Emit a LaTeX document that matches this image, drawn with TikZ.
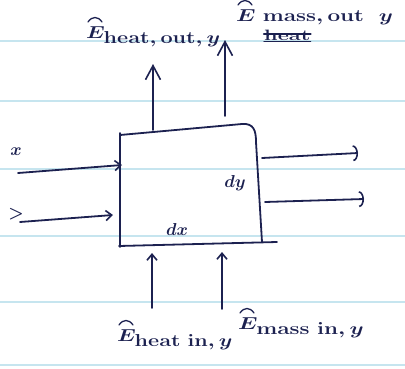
\documentclass[tikz,border=0pt]{standalone}
\usetikzlibrary{arrows.meta}
\definecolor{ink}{HTML}{1C2150}
\definecolor{ruling}{HTML}{C6E5EF}
\tikzset{
  pen/.style={draw=ink, line width=1.8pt, line cap=round, line join=round},
  thinpen/.style={draw=ink, line width=1.3pt, line cap=round},
  ruleline/.style={draw=ruling, line width=1.3pt},
  lbl/.style={text=ink, inner sep=0pt, font=\fontsize{19}{22}\selectfont\boldmath},
  uptip/.style={pen, -{Straight Barb[length=14pt,width=15pt,line width=1.6pt]}},
  smalltip/.style={pen, -{Straight Barb[length=6pt,width=10pt,line width=1.6pt]}},
  arctip/.style={pen, -{Arc Barb[length=5pt,width=16pt,line width=1.6pt]}}
}
\begin{document}
\begin{tikzpicture}[x=1pt,y=-1pt]
\useasboundingbox (0,0) rectangle (405,368);
% ruled paper
\foreach \yy in {41,101,169,236,302,365} \draw[ruleline] (0,\yy) -- (405,\yy);
% control volume
\draw[pen] (120,133) -- (120,247);
\draw[pen] (120,135) -- (242,124) .. controls (254,123) and (256,131) .. (256,142) -- (262,242);
\draw[pen] (119,246) -- (277,242);
% coordinates for connectors
\coordinate (t1s) at (153,130); \coordinate (t1e) at (153,64);
\coordinate (t2s) at (225,116); \coordinate (t2e) at (225,40);
\coordinate (l1s) at (18,173);  \coordinate (l1e) at (122,165);
\coordinate (l2s) at (20,222);  \coordinate (l2e) at (113,215);
\coordinate (r1s) at (262,158); \coordinate (r1e) at (358,153);
\coordinate (r2s) at (265,202); \coordinate (r2e) at (364,199);
\coordinate (b1s) at (152,308); \coordinate (b1e) at (152,253);
\coordinate (b2s) at (222,309); \coordinate (b2e) at (222,252);
% arrows
\draw[uptip] (t1s) -- (t1e);
\draw[uptip] (t2s) -- (t2e);
\draw[smalltip] (l1s) -- (l1e);
\draw[smalltip] (l2s) -- (l2e);
\draw[arctip] (r1s) -- (r1e);
\draw[arctip] (r2s) -- (r2e);
\draw[smalltip] (b1s) -- (b1e);
\draw[smalltip] (b2s) -- (b2e);
% labels
\node[lbl, anchor=base west] (top1) at (86,38) {\scalebox{1.25}[1]{$E_{\textstyle\mathrm{heat,out},y}$}};
\node[lbl, anchor=base west] (top2) at (236,21) {\scalebox{1.3}[1]{$E\;\mathrm{mass,out}\ \ y$}};
\node[lbl, anchor=base west, font=\fontsize{15}{18}\selectfont\bfseries] (heat) at (264,40) {\scalebox{1.45}[1]{heat}};
\draw[pen, line width=2.4pt] ([yshift=1pt]heat.west) -- ([yshift=1pt]heat.east);
\draw[pen, line width=1.4pt] ([yshift=-1pt]heat.south west) -- ([yshift=-1pt]heat.south east);
\node[lbl] (xl) at (16,152) {$x$};
\node[lbl] (yl) at (16,214) {$>$};
\node[lbl] (dy) at (235,183) {$dy$};
\node[lbl] (dx) at (177,229) {$dx$};
\node[lbl, anchor=base west] (bot1) at (117,341) {\scalebox{1.25}[1]{$E_{\textstyle\mathrm{heat\ in},y}$}};
\node[lbl, anchor=base west] (bot2) at (238,329) {\scalebox{1.3}[1]{$E_{\textstyle\mathrm{mass\ in},y}$}};
% accent arcs over the E's
\foreach \nd in {top1,top2,bot1,bot2}
  \draw[thinpen, shift={(\nd.base west)}] (2,-16) .. controls (6,-22) and (12,-22) .. (16,-16);
\end{tikzpicture}
\end{document}
